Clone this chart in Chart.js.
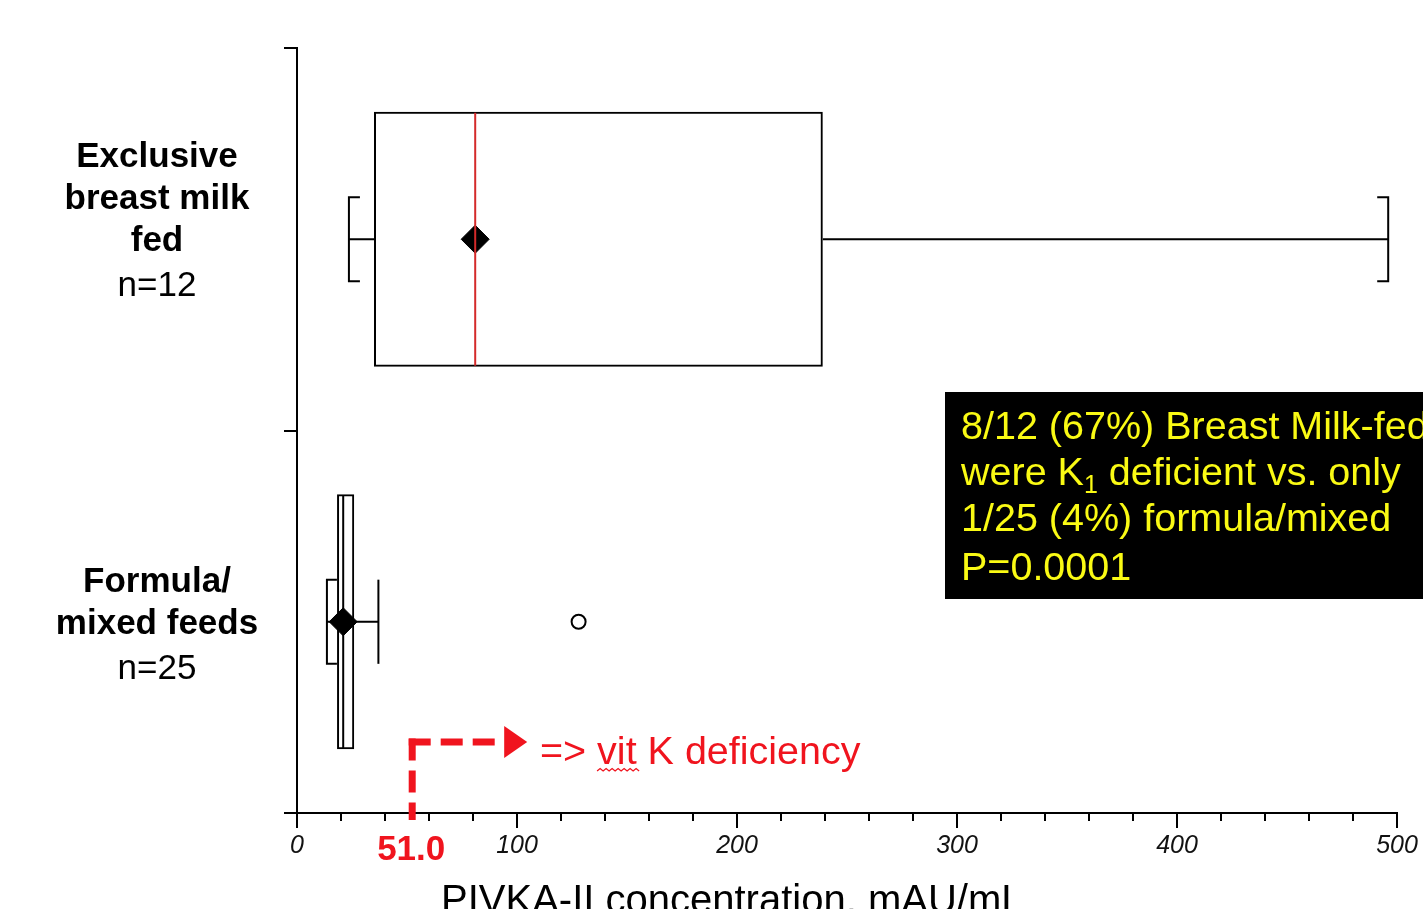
<!DOCTYPE html>
<html>
<head>
<meta charset="utf-8">
<script src="https://cdn.jsdelivr.net/npm/chart.js@4/dist/chart.umd.min.js"></script>
<style>
html,body{margin:0;padding:0;background:#fff;overflow:hidden}
#wrap{width:1423px;height:909px;position:relative}
</style>
</head>
<body>
<div id="wrap"><canvas id="c" width="1423" height="909"></canvas></div>
<script>
// ---------- data ----------
const categories = ['breast', 'formula'];
const categoryLabelsBold = [['Exclusive', 'breast milk', 'fed'], ['Formula/', 'mixed feeds']];
const categoryCounts = ['n=12', 'n=25'];
const whiskerMin = [23.6, 13.6];
const quartile1 = [35, 18.2];
const medians = [81, 21];
const quartile3 = [239, 26];
const whiskerMax = [496, 37];
const means = [81, 21];
const outlierValues = [128];
const outlierGroups = ['formula'];
const xTickValues = [0, 100, 200, 300, 400, 500];
const xMinorTickValues = [20, 40, 60, 80, 120, 140, 160, 180, 220, 240, 260, 280, 320, 340, 360, 380, 420, 440, 460, 480];
const cutoffValue = 51.0;
const cutoffLabel = '51.0';
const cutoffText = '=> vit K deficiency';
const xAxisTitle = 'PIVKA-II concentration, mAU/mL';
const noteLines = [
  [{t: '8/12 (67%) Breast Milk-fed'}],
  [{t: 'were K'}, {t: '1', sub: true}, {t: ' deficient vs. only'}],
  [{t: '1/25 (4%) formula/mixed'}],
  [{t: 'P=0.0001'}]
];

// ---------- styles ----------
const FONT = "'Liberation Sans', Arial, Helvetica, sans-serif";
const medianColors = ['#d42a2a', '#000000'];
const capArms = [[11, 11], [10, 0]];
const RED = '#f0141e';
const YELLOW = '#fafa14';

Chart.defaults.font.family = FONT;

const boxPlugin = {
  id: 'boxExtras',
  afterDatasetsDraw(chart) {
    const ctx = chart.ctx;
    const xs = chart.scales.x, ys = chart.scales.y;
    const band = ys.getPixelForValue(1) - ys.getPixelForValue(0);
    const boxHalf = band * 0.3333;
    const capHalf = band * 0.11;
    ctx.save();
    categories.forEach((c, i) => {
      const yc = ys.getPixelForValue(i);
      const pMin = xs.getPixelForValue(whiskerMin[i]);
      const pQ1 = xs.getPixelForValue(quartile1[i]);
      const pQ3 = xs.getPixelForValue(quartile3[i]);
      const pMax = xs.getPixelForValue(whiskerMax[i]);
      const pMed = xs.getPixelForValue(medians[i]);
      ctx.strokeStyle = '#000';
      ctx.lineWidth = 2;
      ctx.beginPath();
      ctx.moveTo(pMin, yc); ctx.lineTo(pQ1, yc);
      ctx.moveTo(pQ3, yc); ctx.lineTo(pMax, yc);
      ctx.stroke();
      ctx.beginPath();
      ctx.moveTo(pMin + capArms[i][0], yc - capHalf);
      ctx.lineTo(pMin, yc - capHalf);
      ctx.lineTo(pMin, yc + capHalf);
      ctx.lineTo(pMin + capArms[i][0], yc + capHalf);
      ctx.stroke();
      ctx.beginPath();
      ctx.moveTo(pMax - capArms[i][1], yc - capHalf);
      ctx.lineTo(pMax, yc - capHalf);
      ctx.lineTo(pMax, yc + capHalf);
      ctx.lineTo(pMax - capArms[i][1], yc + capHalf);
      ctx.stroke();
      ctx.strokeStyle = medianColors[i];
      ctx.beginPath();
      ctx.moveTo(pMed, yc - boxHalf + 1);
      ctx.lineTo(pMed, yc + boxHalf - 1);
      ctx.stroke();
    });
    ctx.restore();
  },
  afterDraw(chart) {
    const ctx = chart.ctx;
    const xs = chart.scales.x, ys = chart.scales.y;
    const area = chart.chartArea;
    ctx.save();
    // minor ticks
    ctx.strokeStyle = '#000';
    ctx.lineWidth = 2;
    ctx.beginPath();
    xMinorTickValues.forEach(v => {
      const px = Math.round(xs.getPixelForValue(v));
      ctx.moveTo(px, area.bottom);
      ctx.lineTo(px, area.bottom + 8);
    });
    ctx.stroke();

    // category labels
    ctx.fillStyle = '#000';
    ctx.textAlign = 'center';
    ctx.textBaseline = 'alphabetic';
    const labelX = 157;
    categories.forEach((c, i) => {
      const yc = ys.getPixelForValue(i);
      const lines = categoryLabelsBold[i];
      ctx.font = 'bold 35px ' + FONT;
      lines.forEach((ln, k) => {
        const base = yc + 12 - (lines.length - 1 - k) * 42;
        ctx.fillText(ln, labelX, base);
      });
      ctx.font = '35px ' + FONT;
      ctx.fillText(categoryCounts[i], labelX, yc + 57);
    });

    // x axis title
    ctx.font = '40px ' + FONT;
    ctx.textAlign = 'left';
    ctx.fillStyle = '#000';
    ctx.fillText(xAxisTitle, 441, 913);

    // cutoff arrow
    const cx = xs.getPixelForValue(cutoffValue) + 3;
    const cy = area.bottom - 71;
    ctx.strokeStyle = RED;
    ctx.fillStyle = RED;
    ctx.lineWidth = 7;
    ctx.lineCap = 'butt';
    ctx.setLineDash([22, 10]);
    ctx.beginPath();
    ctx.moveTo(cx, cy - 3.5);
    ctx.lineTo(cx, area.bottom + 7);
    ctx.stroke();
    ctx.beginPath();
    ctx.moveTo(cx - 3.5, cy);
    ctx.lineTo(cx + 88, cy);
    ctx.stroke();
    ctx.setLineDash([]);
    ctx.beginPath();
    ctx.moveTo(cx + 92, cy - 16);
    ctx.lineTo(cx + 115, cy);
    ctx.lineTo(cx + 92, cy + 16);
    ctx.closePath();
    ctx.fill();

    // cutoff text
    ctx.font = '39.5px ' + FONT;
    ctx.textAlign = 'left';
    const tx = 540, ty = cy + 22;
    ctx.fillText(cutoffText, tx, ty);
    const pre = ctx.measureText('=> ').width;
    const vitW = ctx.measureText('vit').width;
    ctx.lineWidth = 1.3;
    ctx.beginPath();
    const wy = ty + 7;
    let wx = tx + pre;
    let up = true;
    ctx.moveTo(wx, wy);
    while (wx < tx + pre + vitW) {
      wx += 3;
      ctx.lineTo(wx, up ? wy - 2.5 : wy);
      up = !up;
    }
    ctx.stroke();

    // cutoff label
    ctx.font = 'bold 35px ' + FONT;
    ctx.textAlign = 'center';
    ctx.fillText(cutoffLabel, cx - 1, 860);

    // annotation box
    ctx.fillStyle = '#000';
    ctx.fillRect(945, 392, 500, 207);
    ctx.fillStyle = YELLOW;
    ctx.textAlign = 'left';
    const bases = [439, 485, 531, 580];
    noteLines.forEach((segs, k) => {
      let x = 961;
      segs.forEach(s => {
        if (s.sub) {
          ctx.font = '25px ' + FONT;
          ctx.fillText(s.t, x, bases[k] + 8);
        } else {
          ctx.font = '39.5px ' + FONT;
          ctx.fillText(s.t, x, bases[k]);
        }
        x += ctx.measureText(s.t).width;
      });
    });
    ctx.restore();
  }
};

new Chart(document.getElementById('c'), {
  type: 'bar',
  data: {
    labels: categories,
    datasets: [
      {
        type: 'bar',
        indexAxis: 'y',
        data: categories.map((c, i) => [quartile1[i], quartile3[i]]),
        backgroundColor: 'rgba(0,0,0,0)',
        borderColor: '#000',
        borderWidth: 2,
        borderSkipped: false,
        categoryPercentage: 1,
        barPercentage: 0.667
      },
      {
        type: 'scatter',
        data: categories.map((c, i) => ({x: means[i], y: c})),
        pointStyle: 'rectRot',
        pointRadius: 14,
        backgroundColor: '#000',
        borderColor: '#000',
        borderWidth: 1
      },
      {
        type: 'scatter',
        data: outlierValues.map((v, i) => ({x: v, y: outlierGroups[i]})),
        pointStyle: 'circle',
        pointRadius: 7,
        backgroundColor: '#fff',
        borderColor: '#000',
        borderWidth: 2
      }
    ]
  },
  options: {
    responsive: false,
    animation: false,
    events: [],
    layout: {padding: {left: 284, right: 26, top: 48, bottom: 0}},
    plugins: {legend: {display: false}, tooltip: {enabled: false}},
    scales: {
      x: {
        type: 'linear',
        position: 'bottom',
        offset: false,
        min: 0,
        max: 500,
        afterBuildTicks: s => { s.ticks = xTickValues.map(v => ({value: v})); },
        ticks: {font: {size: 25, style: 'italic'}, color: '#111', padding: 3, maxRotation: 0, autoSkip: false},
        grid: {offset: false, drawOnChartArea: false, drawTicks: true, tickLength: 15, color: '#000', lineWidth: 2},
        border: {display: true, color: '#000', width: 2},
        afterFit: s => { s.height = 96; }
      },
      y: {
        type: 'category',
        labels: categories,
        offset: true,
        ticks: {display: false},
        grid: {offset: true, drawOnChartArea: false, drawTicks: true, tickLength: 13, color: '#000', lineWidth: 2},
        border: {display: true, color: '#000', width: 2},
        afterFit: s => { s.width = 13; }
      }
    }
  },
  plugins: [boxPlugin]
});
</script>
</body>
</html>
